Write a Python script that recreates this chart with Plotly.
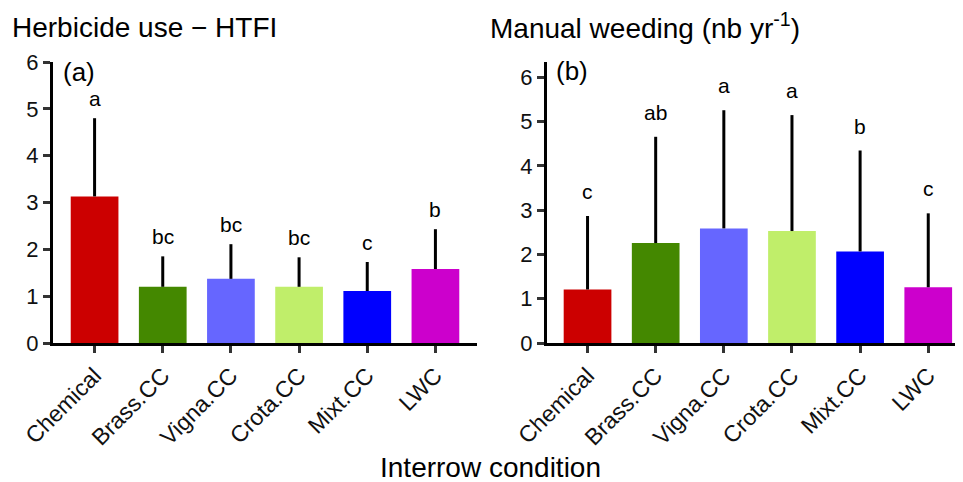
import plotly.graph_objects as go

categories = ["Chemical", "Brass.CC", "Vigna.CC", "Crota.CC", "Mixt.CC", "LWC"]
bar_colors = ["#CC0000", "#448800", "#6666FF", "#C0EE6A", "#0000FF", "#CC00CC"]

htfi_mean = [3.13, 1.20, 1.37, 1.20, 1.11, 1.58]
htfi_err = [1.67, 0.65, 0.74, 0.63, 0.62, 0.85]
htfi_letters = ["a", "bc", "bc", "bc", "c", "b"]

weed_mean = [1.21, 2.26, 2.59, 2.53, 2.07, 1.26]
weed_err = [1.66, 2.40, 2.67, 2.62, 2.28, 1.67]
weed_letters = ["c", "ab", "a", "a", "b", "c"]

y_ticks = [0, 1, 2, 3, 4, 5, 6]

FONT = "Liberation Sans, Arial, sans-serif"
OFF = 8  # page body margin
W, H = 963 - OFF, 482 - OFF
PLOT_TOP, PLOT_BOTTOM = 62, 343  # in window pixels
ML, MR = 0, 0
MT = PLOT_TOP - OFF
MB = H - (PLOT_BOTTOM - OFF)


def px_x(px):
    return (px - OFF - ML) / (W - ML - MR)


def px_y(py):
    return (H - MB - (py - OFF)) / (H - MT - MB)


fig = go.Figure()

for means, errs, xa, ya in [(htfi_mean, htfi_err, "x", "y"), (weed_mean, weed_err, "x2", "y2")]:
    fig.add_trace(go.Bar(
        x=categories, y=means, xaxis=xa, yaxis=ya,
        marker=dict(color=bar_colors, line=dict(width=0)),
        width=0.70,
        error_y=dict(type="data", symmetric=False, array=errs, arrayminus=[0] * len(errs),
                     color="black", thickness=3, width=0),
        showlegend=False, hoverinfo="skip",
    ))

annotations = []
for means, errs, letters, xr, yr, shift in [
    (htfi_mean, htfi_err, htfi_letters, "x", "y", 6),
    (weed_mean, weed_err, weed_letters, "x2", "y2", 11),
]:
    for c, m, e, l in zip(categories, means, errs, letters):
        annotations.append(dict(
            x=c, y=m + e, xref=xr, yref=yr, text=l, showarrow=False,
            yanchor="bottom", yshift=shift, font=dict(family=FONT, size=21, color="black"),
        ))

annotations += [
    dict(x=px_x(10), y=px_y(28), xref="paper", yref="paper", xanchor="left", yanchor="middle",
         text="Herbicide use − HTFI", showarrow=False, font=dict(family=FONT, size=28, color="black")),
    dict(x=px_x(488), y=px_y(26), xref="paper", yref="paper", xanchor="left", yanchor="middle",
         text="Manual weeding (nb yr<sup>-1</sup>)", showarrow=False,
         font=dict(family=FONT, size=28, color="black")),
    dict(x=px_x(490), y=px_y(467), xref="paper", yref="paper", xanchor="center", yanchor="middle",
         text="Interrow condition", showarrow=False, font=dict(family=FONT, size=28, color="black")),
    dict(x=px_x(61), y=px_y(72), xref="paper", yref="paper", xanchor="left", yanchor="middle",
         text="(a)", showarrow=False, font=dict(family=FONT, size=26, color="black")),
    dict(x=px_x(554), y=px_y(71), xref="paper", yref="paper", xanchor="left", yanchor="middle",
         text="(b)", showarrow=False, font=dict(family=FONT, size=26, color="black")),
]

axis_common = dict(showline=True, linecolor="black", linewidth=3, ticks="outside",
                   ticklen=7, tickwidth=2.5, tickcolor="#333", showgrid=False, zeroline=False,
                   automargin=False)
yfont = dict(family=FONT, size=22, color="#111")
xfont = dict(family=FONT, size=23, color="#111")

fig.update_layout(
    template="none",
    width=W, height=H,
    margin=dict(l=ML, r=MR, t=MT, b=MB, autoexpand=False),
    plot_bgcolor="white", paper_bgcolor="white",
    xaxis=dict(domain=[px_x(53), px_x(477)], range=[-0.61, 5.61], type="category",
               tickangle=-45, anchor="y", tickfont=xfont, **axis_common),
    yaxis=dict(domain=[0, 1], range=[0, 6], tickvals=y_ticks, anchor="x", tickfont=yfont, **axis_common),
    xaxis2=dict(domain=[px_x(547), 1.0], range=[-0.595, 5.51], type="category",
                tickangle=-45, anchor="y2", tickfont=xfont, **axis_common),
    yaxis2=dict(domain=[0, 1], range=[0, 6.35], tickvals=y_ticks, anchor="x2", tickfont=yfont, **axis_common),
    annotations=annotations,
)

fig.write_html("out.html")
